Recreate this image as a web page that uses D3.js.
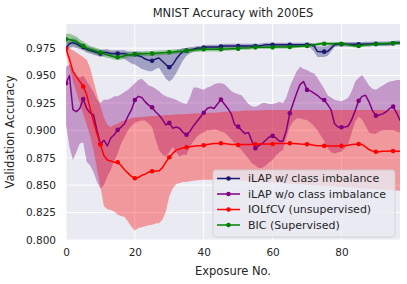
<!DOCTYPE html>
<html>
<head>
<meta charset="utf-8">
<script src="https://cdn.jsdelivr.net/npm/d3@7"></script>
<style>
  body { margin: 0; background: #fff; }
  text { font-family: "DejaVu Sans", sans-serif; fill: #262626; }
</style>
</head>
<body>
<div id="chart"></div>
<script>
const width = 407;
const height = 284;
const margin = { top: 24, right: 7, bottom: 44, left: 66 };

// exposure index 0..97
const exposures = d3.range(0, 98);

const blueMean = [
  0.975, 0.979, 0.980, 0.979, 0.977, 0.976, 0.974, 0.973, 0.972, 0.971,
  0.970, 0.971, 0.971, 0.970, 0.970, 0.970, 0.970, 0.970, 0.969, 0.969,
  0.9694, 0.968, 0.967, 0.965, 0.964, 0.9635, 0.965, 0.966, 0.963, 0.960,
  0.9576, 0.960, 0.965, 0.969, 0.972, 0.9727, 0.973, 0.974, 0.975, 0.975,
  0.9755, 0.976, 0.976, 0.976, 0.976, 0.9765, 0.977, 0.977, 0.977, 0.977,
  0.977, 0.977, 0.977, 0.977, 0.977, 0.977, 0.977, 0.9775, 0.978, 0.978,
  0.978, 0.978, 0.978, 0.978, 0.978, 0.978, 0.978, 0.978, 0.978, 0.978,
  0.978, 0.978, 0.977, 0.972, 0.9718, 0.9718, 0.972, 0.975, 0.978, 0.9785,
  0.9785, 0.9785, 0.9785, 0.9785, 0.9785, 0.9785, 0.9785, 0.9787, 0.9788, 0.979,
  0.979, 0.979, 0.979, 0.979, 0.979, 0.9795, 0.980, 0.980
];
const blueLo = [
  0.971, 0.975, 0.976, 0.975, 0.974, 0.973, 0.971, 0.970, 0.969, 0.968,
  0.967, 0.968, 0.968, 0.967, 0.967, 0.967, 0.966, 0.965, 0.963, 0.961,
  0.960, 0.958, 0.956, 0.955, 0.954, 0.954, 0.956, 0.957, 0.952, 0.947,
  0.9445, 0.947, 0.952, 0.958, 0.964, 0.968, 0.970, 0.972, 0.973, 0.973,
  0.9735, 0.974, 0.974, 0.974, 0.974, 0.9745, 0.975, 0.975, 0.975, 0.975,
  0.975, 0.975, 0.975, 0.975, 0.975, 0.975, 0.975, 0.9755, 0.976, 0.976,
  0.976, 0.976, 0.976, 0.976, 0.976, 0.976, 0.976, 0.976, 0.976, 0.976,
  0.976, 0.975, 0.972, 0.967, 0.967, 0.967, 0.968, 0.972, 0.976, 0.9765,
  0.9765, 0.9765, 0.9765, 0.9765, 0.9765, 0.9765, 0.9765, 0.9767, 0.9768, 0.977,
  0.977, 0.977, 0.977, 0.977, 0.977, 0.9775, 0.978, 0.978
];
const blueHi = [
  0.979, 0.983, 0.984, 0.983, 0.980, 0.979, 0.977, 0.976, 0.975, 0.974,
  0.973, 0.974, 0.974, 0.973, 0.973, 0.973, 0.973, 0.973, 0.972, 0.972,
  0.972, 0.972, 0.971, 0.970, 0.969, 0.969, 0.970, 0.970, 0.970, 0.970,
  0.9715, 0.972, 0.973, 0.974, 0.975, 0.975, 0.976, 0.976, 0.977, 0.977,
  0.9775, 0.978, 0.978, 0.978, 0.978, 0.9785, 0.979, 0.979, 0.979, 0.979,
  0.979, 0.979, 0.979, 0.979, 0.979, 0.979, 0.979, 0.9795, 0.980, 0.980,
  0.980, 0.980, 0.980, 0.980, 0.980, 0.980, 0.980, 0.980, 0.980, 0.980,
  0.980, 0.980, 0.979, 0.9765, 0.9765, 0.9765, 0.977, 0.978, 0.980, 0.9805,
  0.9805, 0.9805, 0.9805, 0.9805, 0.9805, 0.9805, 0.9805, 0.9807, 0.9808, 0.981,
  0.981, 0.981, 0.981, 0.981, 0.981, 0.9815, 0.982, 0.982
];

const purpleMean = [
  0.943, 0.950, 0.919, 0.917, 0.920, 0.9286, 0.920, 0.916, 0.914, 0.900,
  0.8876, 0.891, 0.8858, 0.893, 0.896, 0.9004, 0.903, 0.906, 0.913, 0.9186,
  0.9277, 0.931, 0.930, 0.926, 0.923, 0.921, 0.917, 0.914, 0.910, 0.905,
  0.9068, 0.902, 0.903, 0.902, 0.898, 0.896, 0.899, 0.904, 0.908, 0.912,
  0.916, 0.920, 0.921, 0.920, 0.924, 0.928, 0.924, 0.920, 0.915, 0.905,
  0.9034, 0.900, 0.897, 0.898, 0.890, 0.8837, 0.886, 0.888, 0.891, 0.894,
  0.895, 0.893, 0.890, 0.890, 0.900, 0.9156, 0.925, 0.934, 0.942, 0.9445,
  0.9369, 0.936, 0.934, 0.932, 0.929, 0.9277, 0.9235, 0.9186, 0.906, 0.903,
  0.9028, 0.903, 0.904, 0.910, 0.918, 0.927, 0.931, 0.932, 0.926, 0.918,
  0.9134, 0.914, 0.915, 0.917, 0.920, 0.9216, 0.916, 0.909
];
const purpleLo = [
  0.905, 0.885, 0.873, 0.880, 0.888, 0.889, 0.8714, 0.868, 0.862, 0.853,
  0.847, 0.850, 0.858, 0.864, 0.872, 0.879, 0.888, 0.894, 0.900, 0.904,
  0.907, 0.908, 0.909, 0.909, 0.906, 0.903, 0.892, 0.882, 0.878, 0.876,
  0.880, 0.885, 0.880, 0.876, 0.878, 0.8775, 0.885, 0.890, 0.894, 0.897,
  0.898, 0.900, 0.900, 0.901, 0.900, 0.899, 0.898, 0.895, 0.892, 0.888,
  0.885, 0.882, 0.878, 0.874, 0.870, 0.868, 0.8655, 0.866, 0.868, 0.871,
  0.873, 0.877, 0.880, 0.882, 0.893, 0.9034, 0.908, 0.911, 0.911, 0.910,
  0.9095, 0.907, 0.904, 0.900, 0.895, 0.890, 0.884, 0.880, 0.879, 0.880,
  0.8805, 0.884, 0.888, 0.898, 0.908, 0.9125, 0.910, 0.904, 0.898, 0.897,
  0.897, 0.899, 0.900, 0.900, 0.900, 0.900, 0.899, 0.898
];
const purpleHi = [
  0.958, 0.960, 0.955, 0.950, 0.948, 0.950, 0.945, 0.940, 0.935, 0.928,
  0.925, 0.928, 0.928, 0.929, 0.931, 0.931, 0.933, 0.935, 0.937, 0.940,
  0.943, 0.946, 0.947, 0.944, 0.941, 0.940, 0.938, 0.936, 0.933, 0.931,
  0.930, 0.929, 0.928, 0.926, 0.925, 0.924, 0.930, 0.939, 0.939, 0.938,
  0.937, 0.939, 0.940, 0.942, 0.943, 0.943, 0.942, 0.939, 0.936, 0.934,
  0.933, 0.932, 0.928, 0.924, 0.922, 0.9216, 0.923, 0.925, 0.925, 0.924,
  0.924, 0.925, 0.926, 0.925, 0.930, 0.940, 0.947, 0.954, 0.958, 0.956,
  0.955, 0.953, 0.952, 0.948, 0.943, 0.938, 0.932, 0.930, 0.928, 0.927,
  0.9265, 0.928, 0.930, 0.936, 0.9445, 0.948, 0.9505, 0.946, 0.941, 0.938,
  0.937, 0.939, 0.941, 0.943, 0.9445, 0.945, 0.946, 0.946
];

const redMean = [
  0.9745, 0.965, 0.954, 0.949, 0.9447, 0.940, 0.9326, 0.920, 0.908, 0.897,
  0.887, 0.877, 0.873, 0.872, 0.871, 0.8709, 0.868, 0.864, 0.861, 0.858,
  0.8563, 0.857, 0.859, 0.860, 0.862, 0.8627, 0.863, 0.863, 0.866, 0.871,
  0.8755, 0.879, 0.882, 0.883, 0.884, 0.8846, 0.885, 0.8855, 0.886, 0.886,
  0.8864, 0.887, 0.8875, 0.888, 0.888, 0.8882, 0.888, 0.8875, 0.887, 0.887,
  0.8867, 0.887, 0.887, 0.887, 0.887, 0.8873, 0.8875, 0.8875, 0.8875, 0.8875,
  0.8876, 0.888, 0.888, 0.888, 0.888, 0.8882, 0.888, 0.8878, 0.8875, 0.8873,
  0.8873, 0.887, 0.8865, 0.886, 0.886, 0.8858, 0.8858, 0.8858, 0.8858, 0.8858,
  0.8858, 0.886, 0.8865, 0.887, 0.8873, 0.8876, 0.887, 0.885, 0.8825, 0.881,
  0.8805, 0.8805, 0.881, 0.881, 0.8812, 0.8812, 0.881, 0.881
];
const redLo = [
  0.970, 0.958, 0.945, 0.935, 0.925, 0.915, 0.905, 0.895, 0.882, 0.865,
  0.848, 0.831, 0.828, 0.8274, 0.826, 0.823, 0.822, 0.821, 0.8167, 0.812,
  0.8085, 0.811, 0.8116, 0.8125, 0.8135, 0.814, 0.815, 0.8152, 0.8185, 0.826,
  0.840, 0.847, 0.851, 0.852, 0.853, 0.853, 0.8535, 0.854, 0.8545, 0.8547,
  0.855, 0.855, 0.855, 0.855, 0.855, 0.855, 0.855, 0.855, 0.8548, 0.8546,
  0.8544, 0.8542, 0.854, 0.8538, 0.8536, 0.8534, 0.8532, 0.853, 0.8528, 0.8526,
  0.8524, 0.8522, 0.852, 0.8518, 0.8516, 0.8514, 0.8512, 0.851, 0.8508, 0.8506,
  0.8504, 0.8502, 0.850, 0.8498, 0.8496, 0.8494, 0.8492, 0.849, 0.8488, 0.8486,
  0.8484, 0.8482, 0.848, 0.8478, 0.8476, 0.8474, 0.8472, 0.847, 0.8468, 0.8466,
  0.8464, 0.8462, 0.846, 0.8458, 0.8456, 0.8454, 0.8452, 0.845
];
const redHi = [
  0.977, 0.975, 0.973, 0.971, 0.969, 0.967, 0.9645, 0.957, 0.945, 0.933,
  0.922, 0.912, 0.905, 0.903, 0.905, 0.906, 0.908, 0.909, 0.910, 0.911,
  0.912, 0.912, 0.9122, 0.9125, 0.9128, 0.913, 0.9132, 0.9135, 0.9138, 0.914,
  0.914, 0.9142, 0.9144, 0.9146, 0.9148, 0.915, 0.9152, 0.9154, 0.9155, 0.9155,
  0.9156, 0.9158, 0.916, 0.916, 0.9162, 0.9165, 0.917, 0.917, 0.9172, 0.9174,
  0.9175, 0.9178, 0.918, 0.918, 0.9182, 0.9182, 0.9184, 0.9184, 0.9185, 0.9186,
  0.9186, 0.9186, 0.9186, 0.9186, 0.9186, 0.9186, 0.9186, 0.9186, 0.9186, 0.9186,
  0.9186, 0.9186, 0.9186, 0.9186, 0.9186, 0.9186, 0.9186, 0.9186, 0.9186, 0.9186,
  0.9186, 0.9186, 0.9186, 0.9186, 0.9186, 0.9186, 0.9186, 0.9186, 0.9186, 0.9186,
  0.9186, 0.9186, 0.9186, 0.9186, 0.9186, 0.9186, 0.9186, 0.9186
];

const greenMean = [
  0.983, 0.983, 0.982, 0.981, 0.979, 0.977, 0.975, 0.974, 0.973, 0.972,
  0.971, 0.970, 0.969, 0.968, 0.967, 0.9667, 0.967, 0.968, 0.969, 0.969,
  0.9694, 0.9696, 0.9698, 0.970, 0.970, 0.970, 0.9703, 0.9706, 0.9708, 0.971,
  0.9713, 0.9715, 0.9718, 0.972, 0.9722, 0.9725, 0.973, 0.9733, 0.9735, 0.9738,
  0.974, 0.974, 0.974, 0.974, 0.974, 0.974, 0.9742, 0.9743, 0.9744, 0.9745,
  0.9745, 0.975, 0.975, 0.975, 0.9755, 0.9757, 0.9757, 0.9757, 0.9757, 0.9757,
  0.9757, 0.976, 0.976, 0.976, 0.976, 0.976, 0.9763, 0.9765, 0.9767, 0.977,
  0.977, 0.9775, 0.978, 0.9785, 0.979, 0.979, 0.979, 0.979, 0.979, 0.979,
  0.979, 0.9785, 0.978, 0.9775, 0.977, 0.977, 0.9775, 0.978, 0.978, 0.9785,
  0.9785, 0.979, 0.979, 0.979, 0.9795, 0.9795, 0.9797, 0.9797
];
const greenLo = [
  0.979, 0.979, 0.978, 0.977, 0.975, 0.9735, 0.972, 0.971, 0.970, 0.969,
  0.968, 0.967, 0.966, 0.9655, 0.9645, 0.9642, 0.9645, 0.9655, 0.9665, 0.9667,
  0.967, 0.9672, 0.9675, 0.9677, 0.9678, 0.968, 0.9683, 0.9686, 0.9688, 0.969,
  0.9693, 0.9695, 0.9698, 0.970, 0.9702, 0.9705, 0.971, 0.9713, 0.9715, 0.9718,
  0.972, 0.972, 0.972, 0.972, 0.972, 0.972, 0.9725, 0.9727, 0.9728, 0.973,
  0.973, 0.9735, 0.9735, 0.9735, 0.974, 0.9742, 0.9742, 0.9742, 0.9742, 0.9742,
  0.9742, 0.9745, 0.9745, 0.9745, 0.9745, 0.9745, 0.9748, 0.975, 0.9752, 0.9755,
  0.9755, 0.976, 0.9765, 0.977, 0.9775, 0.9775, 0.9775, 0.9775, 0.9775, 0.9775,
  0.9775, 0.977, 0.9765, 0.976, 0.9755, 0.9755, 0.976, 0.9765, 0.9765, 0.977,
  0.977, 0.9775, 0.9775, 0.9775, 0.978, 0.978, 0.9782, 0.9782
];
const greenHi = [
  0.988, 0.988, 0.987, 0.9855, 0.983, 0.981, 0.979, 0.977, 0.976, 0.975,
  0.974, 0.973, 0.972, 0.9712, 0.9702, 0.970, 0.970, 0.9708, 0.9715, 0.9715,
  0.972, 0.972, 0.9722, 0.9723, 0.9723, 0.9723, 0.9725, 0.9728, 0.973, 0.9732,
  0.9735, 0.9737, 0.974, 0.9742, 0.9744, 0.9747, 0.975, 0.9753, 0.9755, 0.9758,
  0.976, 0.976, 0.976, 0.976, 0.976, 0.976, 0.9762, 0.9763, 0.9764, 0.9765,
  0.9765, 0.977, 0.977, 0.977, 0.9772, 0.9774, 0.9774, 0.9774, 0.9774, 0.9774,
  0.9774, 0.9777, 0.9777, 0.9777, 0.9777, 0.9777, 0.978, 0.9782, 0.9784, 0.9786,
  0.9786, 0.979, 0.9795, 0.980, 0.9805, 0.9805, 0.9805, 0.9805, 0.9805, 0.9805,
  0.9805, 0.980, 0.9795, 0.979, 0.9785, 0.9785, 0.979, 0.9795, 0.9795, 0.980,
  0.980, 0.9805, 0.9805, 0.9805, 0.981, 0.981, 0.9812, 0.9812
];

const series = [
  { name: "iLAP w/ class imbalance", color: "#191970", mean: blueMean, lo: blueLo, hi: blueHi },
  { name: "iLAP w/o class imbalance", color: "#800080", mean: purpleMean, lo: purpleLo, hi: purpleHi },
  { name: "IOLfCV (unsupervised)", color: "#ff0000", mean: redMean, lo: redLo, hi: redHi },
  { name: "BIC (Supervised)", color: "#008000", mean: greenMean, lo: greenLo, hi: greenHi }
];

const xTicks = [0, 20, 40, 60, 80];
const yTicks = [0.800, 0.825, 0.850, 0.875, 0.900, 0.925, 0.950, 0.975];

const svg = d3.select("#chart").append("svg")
  .attr("width", width)
  .attr("height", height);

const plotW = width - margin.left - margin.right;
const plotH = height - margin.top - margin.bottom;

const x = d3.scaleLinear().domain([0, 97]).range([margin.left, margin.left + plotW]);
const y = d3.scaleLinear().domain([0.8, 0.997]).range([margin.top + plotH, margin.top]);

svg.append("rect")
  .attr("x", margin.left).attr("y", margin.top)
  .attr("width", plotW).attr("height", plotH)
  .attr("fill", "#eaeaf2");

// grid
svg.append("g")
  .selectAll("line")
  .data(xTicks)
  .join("line")
  .attr("x1", d => x(d)).attr("x2", d => x(d))
  .attr("y1", margin.top).attr("y2", margin.top + plotH)
  .attr("stroke", "#fff").attr("stroke-width", 1);
svg.append("g")
  .selectAll("line")
  .data(yTicks)
  .join("line")
  .attr("x1", margin.left).attr("x2", margin.left + plotW)
  .attr("y1", d => y(d)).attr("y2", d => y(d))
  .attr("stroke", "#fff").attr("stroke-width", 1);

svg.append("clipPath").attr("id", "clip")
  .append("rect")
  .attr("x", margin.left).attr("y", margin.top)
  .attr("width", plotW).attr("height", plotH);

const plot = svg.append("g").attr("clip-path", "url(#clip)");

const area = (s) => d3.area()
  .x((d, i) => x(exposures[i]))
  .y0((d, i) => y(s.lo[i]))
  .y1((d, i) => y(s.hi[i]));

const line = (s) => d3.line()
  .x((d, i) => x(exposures[i]))
  .y((d, i) => y(s.mean[i]));

series.forEach(s => {
  plot.append("path")
    .datum(s.mean)
    .attr("d", area(s))
    .attr("fill", s.color)
    .attr("fill-opacity", 0.35);
});

series.forEach(s => {
  plot.append("path")
    .datum(s.mean)
    .attr("d", line(s))
    .attr("fill", "none")
    .attr("stroke", s.color)
    .attr("stroke-width", 1.5)
    .attr("stroke-linejoin", "round");
  plot.selectAll(null)
    .data(exposures.filter(i => i % 5 === 0))
    .join("circle")
    .attr("cx", i => x(exposures[i]))
    .attr("cy", i => y(s.mean[i]))
    .attr("r", 2.3)
    .attr("fill", s.color);
});

// axes
const xAxis = svg.append("g")
  .attr("transform", `translate(0,${margin.top + plotH})`)
  .call(d3.axisBottom(x).tickValues(xTicks).tickSize(0).tickPadding(9).tickFormat(d3.format("d")));
const yAxis = svg.append("g")
  .attr("transform", `translate(${margin.left},0)`)
  .call(d3.axisLeft(y).tickValues(yTicks).tickSize(0).tickPadding(10).tickFormat(d3.format(".3f")));
[xAxis, yAxis].forEach(a => {
  a.select(".domain").remove();
  a.selectAll("text")
    .attr("font-family", "DejaVu Sans, sans-serif")
    .attr("font-size", 10.5)
    .attr("fill", "#262626");
});

svg.append("text")
  .attr("x", margin.left + plotW / 2).attr("y", 17)
  .attr("text-anchor", "middle")
  .attr("font-size", 11.5)
  .text("MNIST Accuracy with 200ES");

svg.append("text")
  .attr("x", margin.left + plotW / 2).attr("y", 275)
  .attr("text-anchor", "middle")
  .attr("font-size", 11.5)
  .text("Exposure No.");

svg.append("text")
  .attr("transform", `translate(14,${margin.top + plotH / 2}) rotate(-90)`)
  .attr("text-anchor", "middle")
  .attr("font-size", 11.5)
  .text("Validation Accuracy");

// legend
const legend = svg.append("g").attr("transform", "translate(213,170)");
legend.append("rect")
  .attr("width", 182).attr("height", 67)
  .attr("rx", 3)
  .attr("fill", "#eaeaf2").attr("fill-opacity", 0.8)
  .attr("stroke", "#cccccc").attr("stroke-width", 0.8);
const rows = legend.selectAll("g")
  .data(series)
  .join("g")
  .attr("transform", (d, i) => `translate(0,${8.5 + i * 15.5})`);
rows.append("line")
  .attr("x1", 4).attr("x2", 27)
  .attr("stroke", d => d.color).attr("stroke-width", 1.5);
rows.append("circle")
  .attr("cx", 15.5).attr("r", 2.3)
  .attr("fill", d => d.color);
rows.append("text")
  .attr("x", 35).attr("dy", "0.35em")
  .attr("font-size", 11)
  .text(d => d.name);
</script>
</body>
</html>
